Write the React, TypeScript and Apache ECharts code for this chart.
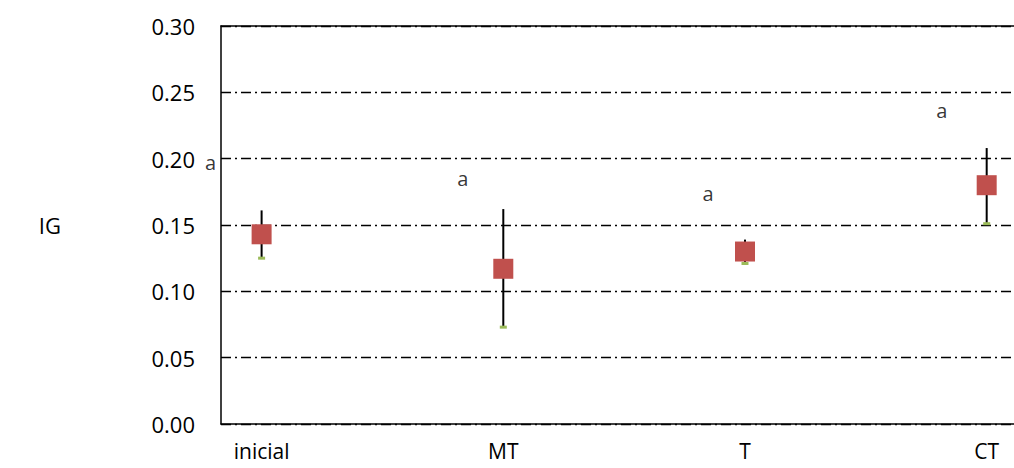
import React, { useEffect, useRef } from "react";
import * as echarts from "echarts";

const categories = ["inicial", "MT", "T", "CT"];
const meanValues = [0.143, 0.117, 0.13, 0.18];
const highValues = [0.161, 0.162, 0.139, 0.208];
const lowValues = [0.125, 0.073, 0.121, 0.151];
const letters = ["a", "a", "a", "a"];
const letterX = [-0.211, 0.833, 1.847, 2.814];
const letterY = [0.197, 0.185, 0.174, 0.236];
const yTicks = [0, 0.05, 0.1, 0.15, 0.2, 0.25, 0.3];

const FONT = "'Open Sans', 'Noto Sans', sans-serif";

export default function App() {
  const ref = useRef<HTMLDivElement>(null);
  useEffect(() => {
    if (!ref.current) return;
    const chart = echarts.init(ref.current, undefined, { renderer: "svg" });
    const idx = categories.map((_, i) => i);
    chart.setOption({
      animation: false,
      backgroundColor: "#ffffff",
      grid: { left: 221, top: 26, bottom: 44, right: 0, containLabel: false },
      xAxis: [
        {
          type: "value",
          min: -0.168,
          max: 3.113,
          axisLine: { show: true, onZero: false, lineStyle: { color: "#000", width: 1.5 } },
          axisTick: { show: false },
          splitLine: { show: false },
          axisLabel: {
            customValues: idx,
            formatter: (v: number) => categories[Math.round(v)] ?? "",
            color: "#000",
            fontFamily: FONT,
            fontSize: 21,
            lineHeight: 22,
            margin: 16,
          },
        },
        {
          type: "value",
          position: "top",
          min: -0.168,
          max: 3.113,
          axisLine: { show: true, onZero: false, lineStyle: { color: "#000", width: 1.5 } },
          axisTick: { show: false },
          splitLine: { show: false },
          axisLabel: { show: false },
        },
      ],
      yAxis: {
        type: "value",
        min: 0,
        max: 0.3,
        interval: 0.05,
        name: "IG",
        nameLocation: "middle",
        nameRotate: 0,
        nameGap: 160,
        nameTextStyle: { color: "#000", fontFamily: FONT, fontSize: 22 },
        axisLine: { show: true, onZero: false, lineStyle: { color: "#000", width: 1.5 } },
        axisTick: { show: false },
        axisLabel: {
          formatter: (v: number) => {
            const t = yTicks.find((x) => Math.abs(x - v) < 1e-9);
            return (t ?? v).toFixed(2);
          },
          color: "#000",
          fontFamily: FONT,
          fontSize: 22,
          margin: 26,
        },
        splitLine: {
          show: true,
          lineStyle: { color: "#000", width: 1.3, type: [10, 4, 2, 4] },
        },
      },
      series: [
        {
          type: "custom",
          name: "range",
          clip: false,
          data: idx.map((i) => [i, highValues[i], lowValues[i]]),
          renderItem: (params: any, api: any) => {
            const x = api.value(0);
            const top = api.coord([x, api.value(1)]);
            const bot = api.coord([x, api.value(2)]);
            return {
              type: "line",
              shape: { x1: top[0], y1: top[1], x2: bot[0], y2: bot[1] },
              style: { stroke: "#000", lineWidth: 2 },
            };
          },
          z: 2,
        },
        {
          type: "scatter",
          name: "low",
          clip: false,
          symbol: "rect",
          symbolSize: [7, 3],
          itemStyle: { color: "#9BBB59", opacity: 1 },
          data: idx.map((i) => [i, lowValues[i]]),
          z: 3,
        },
        {
          type: "scatter",
          name: "mean",
          clip: false,
          symbol: "rect",
          symbolSize: 20,
          itemStyle: { color: "#C0504D", opacity: 1 },
          data: idx.map((i) => [i, meanValues[i]]),
          z: 4,
        },
        {
          type: "scatter",
          name: "letters",
          clip: false,
          symbolSize: 1,
          itemStyle: { color: "rgba(0,0,0,0)" },
          label: {
            show: true,
            position: "inside",
            formatter: (p: any) => letters[p.dataIndex],
            color: "#000",
            fontFamily: FONT,
            fontSize: 20,
          },
          data: idx.map((i) => [letterX[i], letterY[i]]),
          z: 5,
        },
      ],
    });
    return () => chart.dispose();
  }, []);
  return (
    <div
      ref={ref}
      style={{ position: "fixed", left: 0, top: 0, width: 1014, height: 468 }}
    />
  );
}
